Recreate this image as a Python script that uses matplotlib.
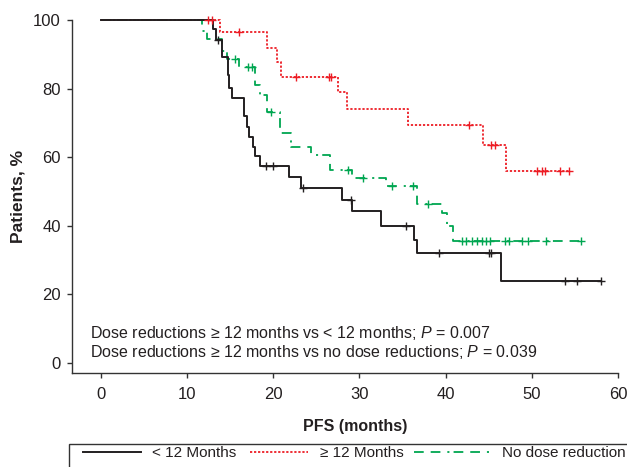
import numpy as np
import matplotlib
matplotlib.use('Agg')
import matplotlib.pyplot as plt
from matplotlib.lines import Line2D
from matplotlib.patches import Rectangle

plt.rcParams['font.family'] = ['Liberation Sans', 'DejaVu Sans']
plt.rcParams['mathtext.fontset'] = 'custom'
plt.rcParams['mathtext.rm'] = 'Liberation Sans'
plt.rcParams['mathtext.it'] = 'Liberation Sans:italic'
plt.rcParams['lines.scale_dashes'] = False

# ---------------- data ----------------
# < 12 months
t_lt12 = [0, 13.0, 13.35, 14.0, 14.7, 14.9, 15.2, 16.55, 16.9, 17.2, 17.6, 17.9, 18.4,
          21.8, 23.2, 28.0, 29.1, 32.5, 36.3, 36.7, 46.4, 58.0]
s_lt12 = [100, 97.3, 94.2, 89.3, 84.0, 80.3, 77.3, 72.1, 68.9, 65.8, 63.1, 60.4, 57.4,
          54.2, 51.1, 47.5, 44.2, 40.0, 36.0, 32.0, 23.8, 23.8]
c_lt12 = [13.6, 19.1, 20.0, 23.4, 29.0, 35.4, 39.25, 45.0, 45.3, 53.8, 55.2, 58.0]

# >= 12 months
t_ge12 = [0, 13.8, 19.3, 20.4, 20.95, 27.5, 28.5, 35.65, 44.35, 46.95, 54.3]
s_ge12 = [100, 96.6, 91.9, 87.9, 83.5, 79.0, 74.1, 69.4, 63.6, 56.0, 56.0]
c_ge12 = [12.45, 12.85, 16.0, 22.6, 26.5, 26.7, 42.7, 45.3, 45.7, 50.6, 51.2, 51.5,
          53.25, 54.3]

# no dose reduction
t_nodr = [0, 11.75, 12.3, 14.05, 14.65, 16.05, 17.9, 18.4, 19.3, 20.8, 22.0, 24.4,
          26.6, 29.1, 33.1, 36.7, 39.6, 40.1, 40.8, 55.7]
s_nodr = [100, 96.8, 94.4, 91.0, 88.5, 86.4, 81.0, 78.1, 73.1, 67.2, 63.1, 60.6,
          56.3, 54.0, 51.6, 46.5, 43.6, 40.0, 35.7, 35.7]
c_nodr = [15.6, 17.1, 17.5, 19.7, 28.65, 30.45, 33.8, 36.2, 37.9, 41.9, 42.4, 43.0,
          43.6, 44.2, 44.7, 45.1, 46.9, 47.4, 48.9, 49.6, 51.7, 55.7]

x_ticks = [0, 10, 20, 30, 40, 50, 60]
y_ticks = [0, 20, 40, 60, 80, 100]
legend_labels = ['< 12 Months', '\u2265 12 Months', 'No dose reduction']
annot_lines = ['Dose reductions \u2265 12 months vs < 12 months; $P$ = 0.007',
               'Dose reductions \u2265 12 months vs no dose reductions; $P$ = 0.039']

# ---------------- style ----------------
C_BLACK = '#231f20'
C_RED = '#ed1c24'
C_GREEN = '#00a651'
LS_BLACK = '-'
LS_RED = (0, (1.6, 1.3))
LS_GREEN = (0, (7, 5, 7, 5, 1.5, 3))
TXT = '#231f20'

W, H = 627, 467
fig = plt.figure(figsize=(W / 100, H / 100), dpi=100)
ax = fig.add_axes([72 / W, 94 / H, 546 / W, 353 / H])


def km(t, s, cens, color, ls, lw):
    t = np.asarray(t, float)
    s = np.asarray(s, float)
    ax.step(t, s, where='post', color=color, lw=lw, linestyle=ls, clip_on=False,
            zorder=3)
    idx = np.searchsorted(t, cens, side='right') - 1
    ax.plot(cens, s[idx], ls='none', marker='+', ms=6, mew=1.0, color=color,
            clip_on=False, zorder=4)


km(t_nodr, s_nodr, c_nodr, C_GREEN, LS_GREEN, 1.3)
km(t_ge12, s_ge12, c_ge12, C_RED, LS_RED, 1.3)
km(t_lt12, s_lt12, c_lt12, C_BLACK, LS_BLACK, 1.4)

ax.set_xlim(-3.36, 60)
ax.set_ylim(-2.9, 100)
ax.set_xticks(x_ticks)
ax.set_yticks(y_ticks)
for sp in ['top', 'right']:
    ax.spines[sp].set_visible(False)
for sp in ['left', 'bottom']:
    ax.spines[sp].set_color('#333333')
    ax.spines[sp].set_linewidth(1.0)
ax.tick_params(axis='both', direction='out', length=3.5, width=1.0, color='#333333',
               labelsize=12, labelcolor=TXT)
ax.tick_params(axis='x', pad=6.5)
ax.tick_params(axis='y', pad=4.5)

# annotations
for i, line in enumerate(annot_lines):
    fig.text(90 / W, 1 - (338 + 19 * i) / H, line, fontsize=11.5, color=TXT,
             va='baseline', ha='left')

# axis labels
fig.text(355 / W, 1 - 431 / H, 'PFS (months)', ha='center', va='baseline',
         fontsize=11.5, fontweight='bold', color=TXT)
fig.text(18 / W, 1 - 196 / H, 'Patients, %', ha='center', va='center', rotation=90,
         fontsize=12.5, fontweight='bold', color=TXT)

# legend box (partially outside the figure)
fig.add_artist(Rectangle((69 / W, -0.2), 1.0, (1 - 444 / H) + 0.2, fill=False,
                         edgecolor='#333333', lw=1.0, transform=fig.transFigure,
                         clip_on=False))
ly = 1 - 452 / H
leg = [(83, 141, 152, C_BLACK, LS_BLACK, 1.4),
       (250, 308, 320, C_RED, LS_RED, 1.3),
       (414, 492, 502, C_GREEN, LS_GREEN, 1.3)]
for (x0, x1, xt, col, ls, lw), lab in zip(leg, legend_labels):
    fig.add_artist(Line2D([x0 / W, x1 / W], [ly, ly], color=col, lw=lw, linestyle=ls,
                          transform=fig.transFigure))
    fig.text(xt / W, 1 - 457 / H, lab, fontsize=11, color=TXT, va='baseline',
             ha='left')

fig.savefig('out.png', dpi=100)
